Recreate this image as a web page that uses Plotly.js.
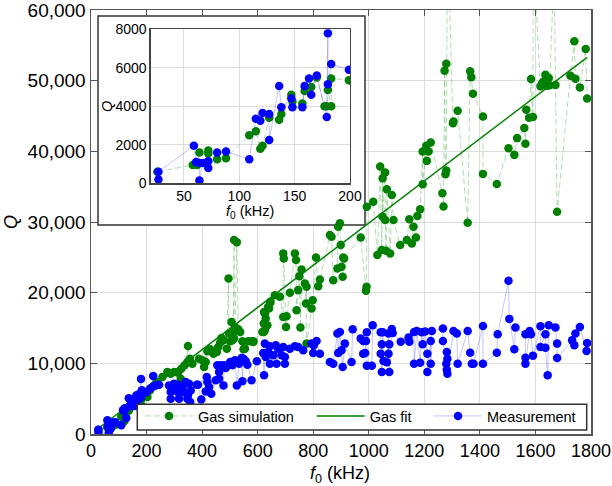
<!DOCTYPE html>
<html><head><meta charset="utf-8">
<script src="https://cdn.plot.ly/plotly-3.0.1.min.js"></script>
<style>html,body{margin:0;padding:0;background:#fff;}#chart{width:612px;height:486px;}</style>
</head><body><div id="chart"></div>
<script>
// Gas simulation: resonance frequency f0 (kHz) and quality factor Q
const gasF = [26,58,62,64,72,72,80,88,109,115,
119,121,127,136,138,147,148,157,159,165,
170,177,179,180,183,183,199,203,212,227,
236,257,275,287,299,313,323,325,337,347,
349,356,365,389,401,407,413,419,429,433,
441,453,458,465,470,477,489,495,497,501,
506,509,513,515,515,518,525,530,537,545,
549,554,566,578,584,585,617,622,622,623,
626,626,629,635,638,641,645,646,662,680,
692,692,694,702,704,716,734,738,740,746,
750,754,758,770,774,776,776,794,798,810,
818,824,860,866,872,887,890,896,899,902,
906,908,911,971,990,992,993,1016,1031,1041,
1047,1050,1050,1059,1059,1062,1065,1077,1083,1089,
1113,1137,1146,1155,1161,1170,1175,1185,1194,1194,
1207,1209,1215,1223,1265,1269,1273,1276,1279,1279,
1283,1303,1305,1320,1356,1365,1369,1375,1411,1411,
1461,1503,1524,1534,1560,1564,1567,1577,1584,1591,
1592,1618,1624,1630,1636,1642,1648,1651,1667,1672,
1678,1726,1740,1744,1760,1781,1786];
const gasQ = [600,950,950,1600,1700,1550,1250,1300,2500,2700,
1800,1950,3400,3300,3600,4600,4250,4150,4800,5000,
5500,4000,4000,4850,4000,5450,5350,5225,6170,6880,
7350,8060,8770,8535,8770,8680,7830,9240,9720,10190,
12460,10660,9950,10660,10430,9480,10190,11700,11990,11700,
11370,11610,12320,12930,13590,13260,12080,22010,14210,13120,
15860,13260,14440,27450,13500,15150,27120,14820,14440,13120,
11990,12080,13120,13120,13030,13120,14440,14440,15630,17280,
14680,17040,16340,15390,17990,17750,18600,18700,19650,19410,
16570,25560,24850,15150,16670,19980,25560,24610,17520,20360,
22340,15060,23290,21300,18460,20830,12790,17750,18940,24990,
20920,21870,28160,27920,21770,23430,29340,29810,26740,23660,
22250,24990,24850,27820,20260,20830,32170,32880,25320,37850,
26030,36190,30760,37000,30280,25930,34630,25550,33830,30280,
26740,27450,30380,26970,29340,27820,30850,31800,39970,35340,
40780,38650,39970,41250,34070,32180,51420,36760,37280,52410,
72000,43990,44230,45740,29900,51320,50470,48150,44940,36810,
35390,40450,39500,41870,43290,41060,45890,44750,50230,44850,
68000,49200,49670,49900,50850,49290,50380,49340,66000,49390,
31460,50710,55580,50280,49050,54490,47490];

// Gas fit (linear)
const fitF = [20, 1786];
const fitQ = [600, 53300];

// Measurement
const measF = [27,27,59,61,64,64,67,72,72,80,
88,109,115,119,121,127,127,136,138,147,
148,157,159,163,165,170,179,180,180,183,
199,212,221,224,233,245,281,287,287,293,
299,305,313,317,317,329,335,341,347,349,
353,357,359,381,385,397,413,417,419,425,
433,449,455,461,461,469,477,479,485,501,
509,518,525,533,542,545,549,557,563,578,
597,620,623,626,629,638,644,644,656,665,
668,674,686,692,698,698,716,734,746,764,
794,800,802,812,824,860,872,887,890,896,
902,906,914,938,942,971,980,980,987,990,
993,993,1011,1014,1043,1043,1047,1047,1050,1053,
1065,1071,1071,1074,1074,1083,1086,1115,1143,1146,
1163,1163,1173,1185,1191,1194,1203,1211,1211,1223,
1223,1227,1267,1267,1279,1281,1281,1283,1283,1305,
1317,1320,1356,1365,1371,1377,1411,1411,1461,1464,
1503,1506,1524,1528,1564,1564,1564,1579,1584,1591,
1618,1618,1636,1636,1644,1648,1672,1678,1678,1732,
1740,1744,1760,1784,1786];
const measQ = [200,600,1950,1100,1050,150,1050,1150,800,1600,
1650,1250,3350,3250,3650,3600,2250,5050,3950,4400,
3950,3950,5050,5450,4600,5600,3450,7800,5150,6200,
5900,6410,6640,8200,6880,6980,6880,5930,4990,6640,
7120,6170,6970,5700,4990,6640,5930,7350,4990,5460,
7120,4520,6170,6970,6970,4890,6030,8060,7350,6640,
5700,7590,9720,8770,7830,9720,6880,9720,9340,10190,
9720,10430,6880,9950,10760,7450,10660,10280,9810,7590,
10280,11470,8300,12790,10900,11610,12410,9950,11140,12550,
9950,12080,11140,12320,10900,9950,12080,12410,12320,11840,
12790,11470,12550,13170,11370,10190,9950,14210,11470,14440,
11840,9480,12790,10190,14820,13500,13170,11370,11470,13170,
14400,9670,9670,15390,14400,11370,12690,8770,14400,10330,
10140,14210,11370,12690,8770,14870,14300,13070,13640,13070,
14440,9950,14580,10090,14400,12690,14490,11370,8770,13170,
9950,14580,14920,13170,9950,11610,9100,10660,8530,14580,
14210,9950,14580,11510,9950,9950,15290,9950,11510,14110,
21680,16290,11990,15060,14110,10800,9950,14580,14110,11090,
15250,12320,14110,12220,8300,15390,15060,12790,10760,13260,
12550,14210,15150,11750,12880];

const seriesNames = ['Gas simulation', 'Gas fit', 'Measurement'];
const xTicks = [0,200,400,600,800,1000,1200,1400,1600,1800];
const yTicks = [0,10000,20000,30000,40000,50000,60000];
const insetXTicks = [50,100,150,200];
const insetYTicks = [0,2000,4000,6000,8000];

const GREEN = 'rgb(0,128,0)';
const BLUE = 'rgb(0,0,255)';
const FONT = 'Liberation Sans, Arial, Helvetica, sans-serif';

const gasLine = {color:'rgba(0,140,0,0.3)', width:1, dash:'6px,3px'};
const measLine = {color:'rgba(60,60,255,0.3)', width:1};
const mk = c => ({color:c, size:8.5, line:{width:0}});

const traces = [
  {x:gasF, y:gasQ, type:'scatter', mode:'lines+markers', name:seriesNames[0],
   line:gasLine, marker:mk(GREEN), legend:'legend', xaxis:'x', yaxis:'y'},
  {x:fitF, y:fitQ, type:'scatter', mode:'lines', name:seriesNames[1],
   line:{color:GREEN, width:1.5}, legend:'legend2', xaxis:'x', yaxis:'y'},
  {x:measF, y:measQ, type:'scatter', mode:'lines+markers', name:seriesNames[2],
   line:measLine, marker:mk(BLUE), legend:'legend3', xaxis:'x', yaxis:'y'},
  {x:gasF, y:gasQ, type:'scatter', mode:'lines+markers', showlegend:false,
   line:gasLine, marker:mk(GREEN), xaxis:'x2', yaxis:'y2'},
  {x:measF, y:measQ, type:'scatter', mode:'lines+markers', showlegend:false,
   line:measLine, marker:mk(BLUE), xaxis:'x2', yaxis:'y2'}
];

const L = 91, R = 21, T = 10, B = 52, W = 612, H = 486;
const pw = W - L - R, ph = H - T - B;
const px2paper = p => (p - L) / pw;
const py2paper = p => (H - B - p) / ph;

const mainAxis = {
  showline:true, linecolor:'#555', linewidth:1.5, mirror:'ticks',
  ticks:'inside', ticklen:6, tickcolor:'#555', tickwidth:1,
  showgrid:true, gridcolor:'#dcdcdc', gridwidth:1, zeroline:false,
  ticklabeloverflow:'allow'
};
const insetAxis = {
  showline:true, linecolor:'#444', linewidth:1.3, mirror:true,
  ticks:'', showgrid:true, gridcolor:'#dcdcdc', gridwidth:1, zeroline:false,
  tickfont:{family:FONT, size:14, color:'#000'}
};

const legendBase = {orientation:'h', xanchor:'left', yanchor:'middle', y:py2paper(416),
  bgcolor:'rgba(0,0,0,0)', borderwidth:0, itemwidth:48,
  font:{family:FONT, size:14.5, color:'#000'}};

const layout = {
  width:W, height:H, margin:{l:L, r:R, t:T, b:B, pad:0},
  paper_bgcolor:'#fff', plot_bgcolor:'#fff',
  font:{family:FONT, color:'#000'},
  xaxis:Object.assign({}, mainAxis, {range:[0,1800], tickvals:xTicks, ticktext:xTicks.map(String), domain:[0,1], anchor:'y',
    tickfont:{family:FONT, size:18, color:'#000'}}),
  yaxis:Object.assign({}, mainAxis, {range:[0,60000], tickvals:yTicks, ticktext:yTicks.map(v=>v.toLocaleString('en-US')), domain:[0,1], anchor:'x',
    tickfont:{family:FONT, size:19, color:'#000'}}),
  xaxis2:Object.assign({}, insetAxis, {range:[20,200], tickvals:insetXTicks, ticktext:insetXTicks.map(String),
    domain:[px2paper(150.7), px2paper(350)], anchor:'y2'}),
  yaxis2:Object.assign({}, insetAxis, {range:[0,8000], tickvals:insetYTicks, ticktext:insetYTicks.map(String),
    domain:[py2paper(183.3), py2paper(29.3)], anchor:'x2'}),
  showlegend:true,
  legend:Object.assign({}, legendBase, {x:px2paper(140)}),
  legend2:Object.assign({}, legendBase, {x:px2paper(311.7)}),
  legend3:Object.assign({}, legendBase, {x:px2paper(429)}),
  shapes:[
    {type:'rect', xref:'x', yref:'y', layer:'between',
     x0:(98-L)/pw*1800, x1:(365-L)/pw*1800, y0:(H-B-225)/ph*60000, y1:(H-B-16)/ph*60000,
     fillcolor:'#fff', line:{color:'#333', width:1.5}},
    {type:'rect', xref:'paper', yref:'paper', layer:'above',
     x0:px2paper(137.3), x1:px2paper(586.7), y0:py2paper(430), y1:py2paper(404.3),
     fillcolor:'#fff', line:{color:'#333', width:1.5}}
  ],
  annotations:[
    {text:'<i>f</i><sub>0</sub> (kHz)', xref:'paper', yref:'paper', x:px2paper(340), y:py2paper(474),
     xanchor:'center', yanchor:'middle', showarrow:false, font:{family:FONT, size:18, color:'#000'}},
    {text:'<i>Q</i>', xref:'paper', yref:'paper', x:px2paper(11), y:py2paper(222), textangle:-90,
     xanchor:'center', yanchor:'middle', showarrow:false, font:{family:FONT, size:18, color:'#000'}},
    {text:'<i>f</i><sub>0</sub> (kHz)', xref:'paper', yref:'paper', x:px2paper(250), y:py2paper(212),
     xanchor:'center', yanchor:'middle', showarrow:false, font:{family:FONT, size:14.5, color:'#000'}},
    {text:'<i>Q</i>', xref:'paper', yref:'paper', x:px2paper(107), y:py2paper(107), textangle:-90,
     xanchor:'center', yanchor:'middle', showarrow:false, font:{family:FONT, size:14.5, color:'#000'}}
  ]
};

Plotly.newPlot('chart', traces, layout, {staticPlot:true, displayModeBar:false});
</script></body></html>
